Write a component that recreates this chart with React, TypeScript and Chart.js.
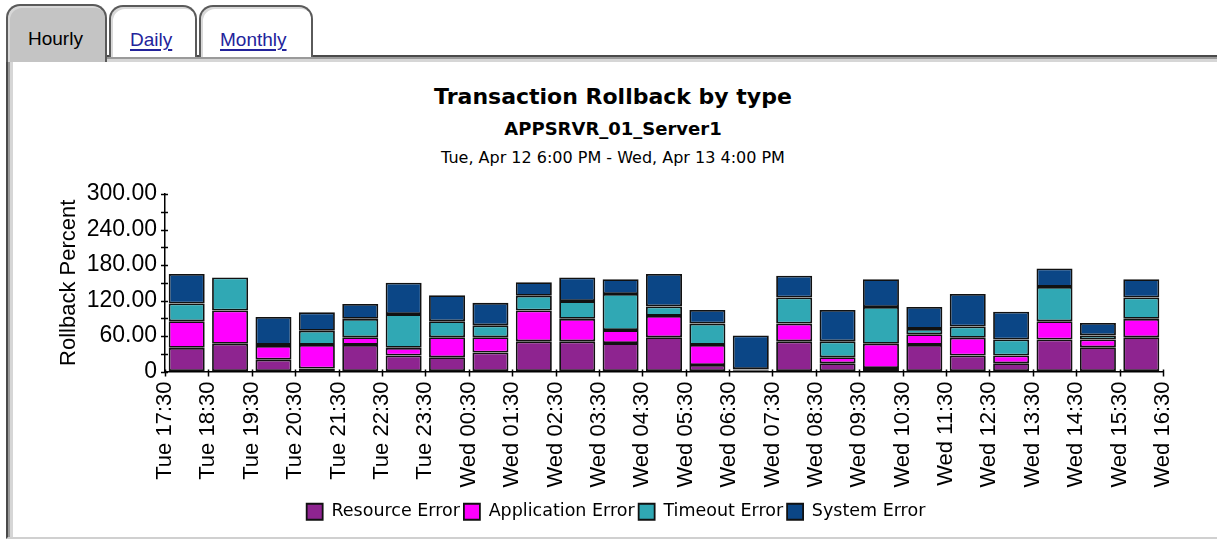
import React, { useEffect, useRef } from 'react';
import { Chart, registerables } from 'chart.js';

Chart.register(...registerables);

const timeLabels = [
  'Tue 17:30', 'Tue 18:30', 'Tue 19:30', 'Tue 20:30', 'Tue 21:30', 'Tue 22:30', 'Tue 23:30',
  'Wed 00:30', 'Wed 01:30', 'Wed 02:30', 'Wed 03:30', 'Wed 04:30', 'Wed 05:30', 'Wed 06:30',
  'Wed 07:30', 'Wed 08:30', 'Wed 09:30', 'Wed 10:30', 'Wed 11:30', 'Wed 12:30', 'Wed 13:30',
  'Wed 14:30', 'Wed 15:30', 'Wed 16:30',
];

const resourceError = [40, 47, 20, 5, 45, 27, 24, 32, 51, 51, 48, 58, 11, 2, 51, 14, 6, 45, 27, 14, 54, 41, 58];
const applicationError = [45, 56, 23, 40, 13, 13, 34, 26, 52, 38, 22, 36, 34, 1, 30, 10, 41, 18, 30, 13, 31, 13, 31];
const timeoutError = [30, 56, 2, 24, 31, 57, 27, 20, 25, 30, 61, 16, 36, 1, 44, 27, 62, 9, 19, 27, 58, 7, 36];
const systemError = [50, 0, 47, 31, 25, 53, 44, 38, 23, 40, 25, 55, 23, 57, 37, 53, 47, 37, 55, 47, 31, 21, 31];

const seriesNames = ['Resource Error', 'Application Error', 'Timeout Error', 'System Error'];
const seriesColors = ['#8E2490', '#FF00FF', '#30A8B4', '#0B4686'];

const crossTicks = {
  id: 'crossTicks',
  afterDraw(chart: any) {
    const { ctx, chartArea } = chart;
    const x = chart.scales.x;
    const y = chart.scales.y;
    ctx.save();
    ctx.strokeStyle = '#000';
    ctx.lineWidth = 1.5;
    ctx.beginPath();
    y.ticks.forEach((_t: any, i: number) => {
      const py = Math.round(y.getPixelForTick(i)) + 0.5;
      ctx.moveTo(chartArea.left - 4, py);
      ctx.lineTo(chartArea.left + 3, py);
    });
    x.ticks.forEach((_t: any, i: number) => {
      const px = Math.round(x.getPixelForTick(i)) + 0.5;
      ctx.moveTo(px, chartArea.bottom - 2);
      ctx.lineTo(px, chartArea.bottom + 5);
    });
    ctx.stroke();
    ctx.restore();
  },
};

export default function App() {
  const ref = useRef<HTMLCanvasElement>(null);

  useEffect(() => {
    const series = [resourceError, applicationError, timeoutError, systemError];
    const gridOpts = {
      display: true,
      offset: false,
      drawOnChartArea: false,
      drawTicks: true,
      tickLength: 5,
      tickColor: 'rgba(0,0,0,0)',
    };
    const chart = new Chart(ref.current as HTMLCanvasElement, {
      type: 'bar',
      data: {
        datasets: series.map((vals, k) => ({
          label: seriesNames[k],
          data: vals.map((v, i) => ({ x: i + 0.5, y: v })),
          backgroundColor: seriesColors[k],
          borderColor: '#111',
          borderWidth: 1.8,
          borderSkipped: false,
          stack: 'all',
          barPercentage: 0.83,
          categoryPercentage: 1,
        })),
      } as any,
      options: {
        animation: false,
        responsive: false,
        maintainAspectRatio: false,
        events: [],
        layout: { padding: { top: 194, left: 69, right: 54, bottom: 10.5 } },
        plugins: {
          legend: {
            position: 'bottom',
            labels: {
              font: { family: 'DejaVu Sans', size: 17.5 },
              color: '#000',
              boxWidth: 16,
              boxHeight: 16,
              padding: 4,
            },
          },
          title: { display: false },
          tooltip: { enabled: false },
        },
        scales: {
          x: {
            type: 'linear',
            min: 0,
            max: 23,
            offset: false,
            grid: gridOpts,
            border: { display: true, color: '#000', width: 1.5 },
            ticks: {
              stepSize: 1,
              autoSkip: false,
              minRotation: 90,
              maxRotation: 90,
              padding: 5,
              color: '#000',
              font: { family: 'Liberation Sans', size: 22 },
              callback: (v: any) => timeLabels[v] ?? '',
            },
            afterFit: (s: any) => {
              s.height = 127.5;
            },
          },
          y: {
            stacked: true,
            min: 0,
            max: 300,
            grid: gridOpts,
            border: { display: true, color: '#000', width: 1.5 },
            ticks: {
              stepSize: 30,
              autoSkip: false,
              padding: 3,
              color: '#000',
              font: { family: 'Liberation Sans', size: 23 },
              callback: (v: any) => (v % 60 === 0 ? (v === 0 ? '0' : Number(v).toFixed(2)) : ''),
            },
            title: {
              display: true,
              text: 'Rollback Percent',
              color: '#000',
              font: { family: 'Liberation Sans', size: 22, lineHeight: 1 },
              padding: { top: -11, bottom: 0 },
            },
            afterFit: (s: any) => {
              s.width = 96;
            },
          },
        },
      } as any,
      plugins: [crossTicks],
    });
    return () => chart.destroy();
  }, []);

  const tabBase: React.CSSProperties = {
    position: 'absolute',
    boxSizing: 'border-box',
    borderTop: '2px solid #5a5a5a',
    borderLeft: '2px solid #5a5a5a',
    borderRight: '2px solid #5a5a5a',
    borderRadius: '14px 14px 0 0',
    boxShadow: 'inset 2px 2px 0 #d8d8d8',
  };
  const tabText: React.CSSProperties = {
    position: 'absolute',
    fontFamily: 'Liberation Sans',
    fontSize: 19,
    lineHeight: '19px',
    whiteSpace: 'nowrap',
  };
  const linkText: React.CSSProperties = {
    ...tabText,
    color: '#23239b',
    textDecoration: 'underline',
    textUnderlineOffset: '3px',
    textDecorationThickness: '2px',
  };
  const centered: React.CSSProperties = {
    position: 'absolute',
    left: 213,
    width: 800,
    textAlign: 'center',
    color: '#000',
    whiteSpace: 'nowrap',
  };

  return (
    <div
      style={{
        position: 'absolute',
        left: 0,
        top: 0,
        width: 1217,
        height: 541,
        overflow: 'hidden',
        background: '#fff',
      }}
    >
      {/* content panel */}
      <div
        style={{
          position: 'absolute',
          left: 6,
          top: 55,
          width: 1300,
          height: 484,
          boxSizing: 'border-box',
          borderTop: '2px solid #4a4a4a',
          borderLeft: '2px solid #4a4a4a',
          borderBottom: '2px solid #d0d0d0',
          boxShadow: 'inset 2px 2px 0 #9a9a9a, inset 5px 5px 0 #d6d6d6',
          background: '#fff',
        }}
      />
      {/* tabs */}
      <div style={{ ...tabBase, left: 6, top: 4, width: 101, height: 58, background: '#c4c4c4', borderBottom: 'none' }} />
      <div style={{ ...tabBase, left: 109, top: 5, width: 88, height: 52, background: '#fff' }} />
      <div style={{ ...tabBase, left: 199, top: 5, width: 114, height: 52, background: '#fff' }} />
      <div style={{ ...tabText, left: 28, top: 29, color: '#000' }}>Hourly</div>
      <div style={{ ...linkText, left: 130, top: 30 }}>Daily</div>
      <div style={{ ...linkText, left: 220, top: 30 }}>Monthly</div>

      {/* titles */}
      <div style={{ ...centered, top: 86, fontFamily: 'DejaVu Sans', fontWeight: 'bold', fontSize: 22, lineHeight: '22px' }}>
        Transaction Rollback by type
      </div>
      <div style={{ ...centered, top: 120, fontFamily: 'DejaVu Sans', fontWeight: 'bold', fontSize: 18, lineHeight: '18px' }}>
        APPSRVR_01_Server1
      </div>
      <div style={{ ...centered, top: 150, fontFamily: 'DejaVu Sans', fontSize: 16, lineHeight: '16px' }}>
        Tue, Apr 12 6:00 PM - Wed, Apr 13 4:00 PM
      </div>

      <canvas
        ref={ref}
        width={1217}
        height={541}
        style={{ position: 'absolute', left: 0, top: 0, width: 1217, height: 541, display: 'block' }}
      />
    </div>
  );
}
